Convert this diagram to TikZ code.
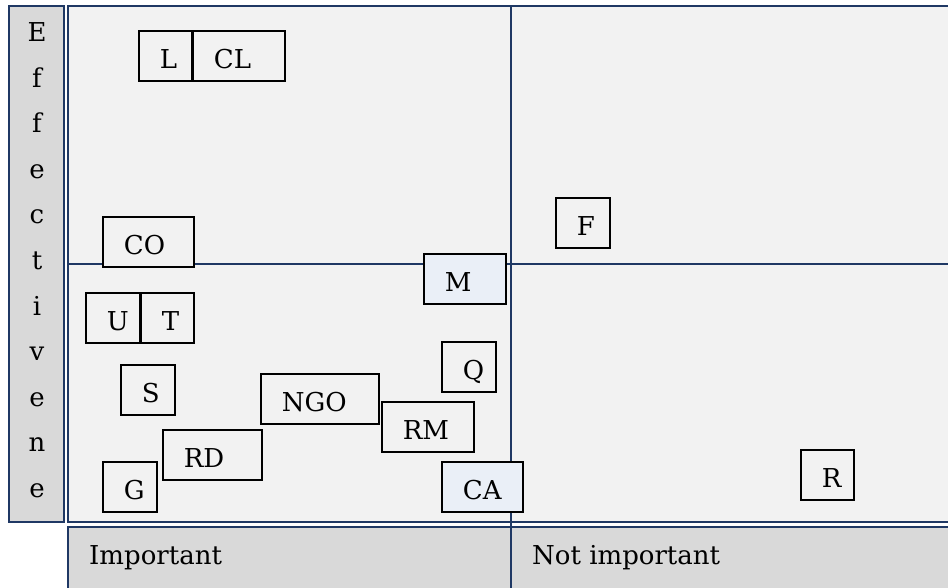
\documentclass[tikz,border=0pt]{standalone}
\usepackage{fontspec}
\setmainfont{DejaVu Serif}
\definecolor{navy}{RGB}{31,56,100}
\definecolor{bgmain}{RGB}{242,242,242}
\definecolor{bghead}{RGB}{217,217,217}
\definecolor{paleblue}{RGB}{234,239,247}
\tikzset{
  region/.style={draw=navy, line width=2pt},
  divider/.style={draw=navy, line width=2pt},
  itembox/.style={draw=black, line width=1.8pt, fill=bgmain, rectangle, anchor=north west,
    minimum height=50pt, inner xsep=21pt, inner ysep=0pt, text height=25pt, text depth=0pt,
    align=left, font=\fontsize{26}{30}\selectfont},
  hilite/.style={fill=paleblue},
  vlabel/.style={anchor=base, inner sep=0pt, font=\fontsize{26}{30}\selectfont},
  hlabel/.style={anchor=base west, inner sep=0pt, font=\fontsize{26}{30}\selectfont}
}
\newcommand{\itembox}[5][]{\node[itembox,#1,text width=#5pt-42pt] (#2) at (#3) {#4};}
\begin{document}
\begin{tikzpicture}[x=1pt,y=-1pt]
\clip (0,0) rectangle (948,588);
\fill[white] (0,0) rectangle (948,588);
% regions
\draw[region, fill=bghead] (9,6) rectangle (64,521.5);
\draw[region, fill=bgmain] (68,6) rectangle (970,522);
\draw[region, fill=bghead] (68,526.5) rectangle (970,600);
\draw[divider] (511,6) -- (511,600);
\draw[divider] (68,264) -- (970,264);
% axis labels
\foreach \ch [count=\k from 0] in {E,f,f,e,c,t,i,v,e,n,e}{
  \node[vlabel] (v\k) at (37,{42+45.5*\k}) {\ch};
}
\node[hlabel] (imp) at (89,564) {Important};
\node[hlabel] (notimp) at (532,564) {Not important};
% item boxes
\itembox{L}{138,30}{L}{53}
\itembox{CL}{192,30}{CL}{92}
\itembox{CO}{102,216}{CO}{91}
\itembox{F}{555,197}{F}{54}
\itembox[hilite]{M}{423,253}{M}{82}
\itembox{Q}{441,341}{Q}{54}
\itembox{RM}{381,401}{RM}{92}
\itembox[hilite]{CA}{441,461}{CA}{81}
\itembox{R}{800,449}{R}{53}
\itembox{U}{85,292}{U}{54}
\itembox{T}{140,292}{T}{53}
\itembox{S}{120,364}{S}{54}
\itembox{NGO}{260,373}{NGO}{118}
\itembox{RD}{162,429}{RD}{99}
\itembox{G}{102,461}{G}{54}
\end{tikzpicture}
\end{document}
